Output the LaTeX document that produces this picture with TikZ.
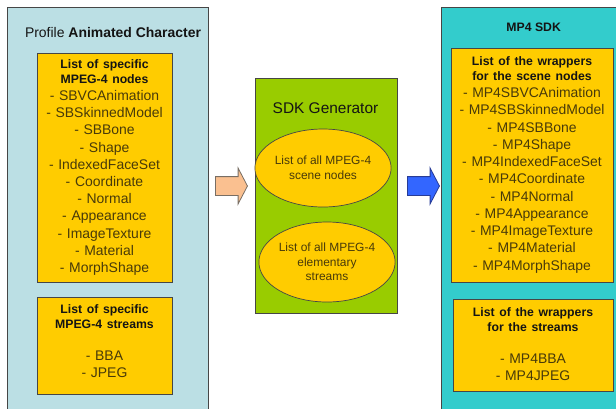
\documentclass[tikz,border=0pt]{standalone}
\usepackage{fontspec}
\setmainfont{Liberation Sans}
\usetikzlibrary{shapes.geometric,shapes.arrows}

\definecolor{panelblue}{RGB}{187,223,228}
\definecolor{panelteal}{RGB}{51,204,204}
\definecolor{boxyellow}{RGB}{255,204,0}
\definecolor{gengreen}{RGB}{153,204,0}
\definecolor{framegray}{RGB}{70,70,70}
\definecolor{itemcolor}{RGB}{72,58,10}
\definecolor{headcolor}{RGB}{20,20,20}
\definecolor{peach}{RGB}{250,192,144}
\definecolor{peachline}{RGB}{120,110,100}
\definecolor{blockblue}{RGB}{51,102,255}
\definecolor{blueline}{RGB}{40,60,150}

\newcommand{\headfont}{\fontsize{12.3}{15}\selectfont\bfseries\color{headcolor}}

\begin{document}
\begin{tikzpicture}[x=1bp,y=-1bp,
  panel/.style={draw=framegray, line width=0.8bp, anchor=north west, inner sep=0, outer sep=0},
  listbox/.style={draw=framegray, fill=boxyellow, line width=0.8bp, anchor=north west, inner sep=0},
  listtext/.style 2 args={anchor=north, inner sep=0, align=center, text=itemcolor,
    text width=#1, font=\fontsize{14}{#2}\selectfont},
  oval/.style={ellipse, draw=framegray, fill=boxyellow, line width=0.7bp, inner sep=0,
    align=center, text=itemcolor, font=\fontsize{12}{14.7}\selectfont},
  blockarrow/.style={single arrow, minimum width=35bp, minimum height=32bp,
    single arrow head extend=8.5bp, single arrow tip angle=125,
    inner xsep=0, inner ysep=9bp, line width=0.8bp},
  title/.style={anchor=base, inner sep=0}
]
\useasboundingbox (0,0) rectangle (616,408);
\clip (0,0) rectangle (616,408);

% left panel: the animated character profile
\node[panel, fill=panelblue, minimum width=201bp, minimum height=420bp] (lpanel) at (7,7) {};
\node[title, font=\fontsize{14}{17}\selectfont, text=headcolor] (ltitle) at (113,37)
  {Profile \textbf{Animated Character}};
\node[listbox, minimum width=135bp, minimum height=229bp] (lnodes) at (37,53) {};
\node[listtext={135bp}{17.25}] (lnodestext) at (104.5,59.4) {%
  {\headfont List of specific\\ MPEG-4 nodes\par}
  - SBVCAnimation\\ - SBSkinnedModel\\ - SBBone\\ - Shape\\ - IndexedFaceSet\\
  - Coordinate\\ - Normal\\ - Appearance\\ - ImageTexture\\ - Material\\ - MorphShape\par};
\node[listbox, minimum width=135bp, minimum height=97bp] (lstreams) at (37,297) {};
\node[listtext={135bp}{16.3}] (lstreamstext) at (104.5,304.4) {%
  {\headfont List of specific\\ MPEG-4 streams\par}
  \mbox{}\\ - BBA\\ - JPEG\par};

% middle: the generator
\node[panel, fill=gengreen, minimum width=142bp, minimum height=235bp] (gen) at (255,78) {};
\node[title, font=\fontsize{15.5}{18}\selectfont, text=headcolor] (gentitle) at (325.5,113.5)
  {SDK Generator};
\node[oval, minimum width=125bp, minimum height=78bp] (allnodes) at (323,168)
  {List of all MPEG-4\\ scene nodes};
\node[oval, minimum width=131bp, minimum height=80bp] (allstreams) at (327,262)
  {List of all MPEG-4\\ elementary\\ streams};

% block arrows between the stages
\node[blockarrow, draw=peachline, fill=peach] (inarrow) at (229,186) {};
\node[blockarrow, draw=blueline, fill=blockblue] (outarrow) at (421,186) {};

% right panel: the generated SDK
\node[panel, fill=panelteal, minimum width=200bp, minimum height=420bp] (rpanel) at (441,7) {};
\node[title, font=\headfont] (rtitle) at (533.7,31.4) {MP4 SDK};
\node[listbox, minimum width=162bp, minimum height=234bp] (rnodes) at (451,48) {};
\node[listtext={162bp}{17.3}] (rnodestext) at (532,56.4) {%
  {\headfont List of the wrappers\\ for the scene nodes\par}
  - MP4SBVCAnimation\\ - MP4SBSkinnedModel\\ - MP4SBBone\\ - MP4Shape\\
  - MP4IndexedFaceSet\\ - MP4Coordinate\\ - MP4Normal\\ - MP4Appearance\\
  - MP4ImageTexture\\ - MP4Material\\ - MP4MorphShape\par};
\node[listbox, minimum width=160bp, minimum height=92bp] (rstreams) at (453,299) {};
\node[listtext={160bp}{16.3}] (rstreamstext) at (533,307.4) {%
  {\headfont List of the wrappers\\ for the streams\par}
  \mbox{}\\ - MP4BBA\\ - MP4JPEG\par};
\end{tikzpicture}
\end{document}
